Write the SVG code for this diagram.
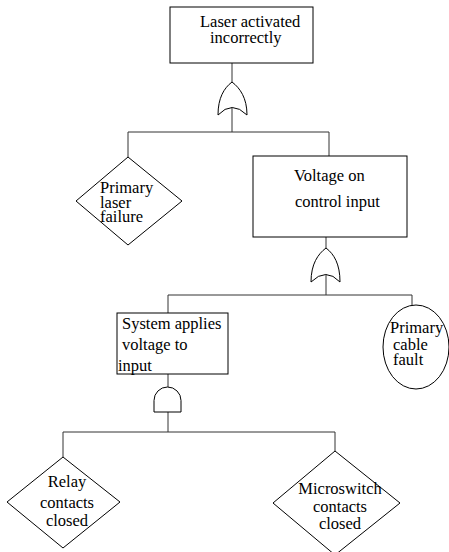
<svg xmlns="http://www.w3.org/2000/svg" width="449" height="552" viewBox="0 0 449 552">
<style>
.box{fill:#fff;stroke:#000;stroke-width:1}
.gate{fill:#fff;stroke:#000;stroke-width:1}
.con{fill:none;stroke:#333;stroke-width:1}
text{font-family:"Liberation Serif","Times New Roman",serif;font-size:16.5px;fill:#000}
</style>
<rect width="449" height="552" fill="#fff"/>
<g id="connectors">
<path class="con" d="M232,63V82M232,107V132M128,132H329M128,132V157M329,132V156"/>
<path class="con" d="M326,237V248M326,274V295M168,295H412M168,295V313M412,295V305"/>
<path class="con" d="M168,374V387M168,412V432M63,432H335M63,432V457M335,432V451"/>
</g>
<g id="gate1"><path class="gate" d="M232,82C240,88 247,98 247,115Q232,100 218,115C218,98 224,88 232,82Z"/></g>
<g id="gate2"><path class="gate" d="M326,248C334,254 340,264 340,282Q326,267 311,282C311,264 318,254 326,248Z"/></g>
<g id="gate3"><path class="gate" d="M154,412V400.5A13.5,13.5 0 0 1 181,400.5V412Z"/></g>
<g id="top"><rect class="box" x="170" y="7" width="143" height="56"/>
<text x="200" y="27">Laser activated</text><text x="210" y="43">incorrectly</text></g>
<g id="laser"><polygon class="box" points="128,157 182,201 128,245 76,201"/>
<text x="100" y="193">Primary</text><text x="100" y="208">laser</text><text x="100" y="222">failure</text></g>
<g id="voltage"><rect class="box" x="253" y="156" width="154" height="81"/>
<text x="294" y="181">Voltage on</text><text x="295" y="207">control input</text></g>
<g id="system"><rect class="box" x="117" y="313" width="111" height="61"/>
<text x="122" y="329">System applies</text><text x="122" y="350">voltage to</text><text x="118" y="371">input</text></g>
<g id="cable"><ellipse class="box" cx="416" cy="347" rx="33" ry="42"/>
<text x="390" y="333">Primary</text><text x="393" y="350">cable</text><text x="393" y="365">fault</text></g>
<g id="relay"><polygon class="box" points="63,457 120,502 63,548 7,502"/>
<text x="67" y="487" text-anchor="middle">Relay</text><text x="67" y="508" text-anchor="middle">contacts</text><text x="67" y="526" text-anchor="middle">closed</text></g>
<g id="micro"><polygon class="box" points="335,451 400,503 335,555 273,503"/>
<text x="340" y="494" text-anchor="middle">Microswitch</text><text x="340" y="512" text-anchor="middle">contacts</text><text x="340" y="529" text-anchor="middle">closed</text></g>
</svg>
